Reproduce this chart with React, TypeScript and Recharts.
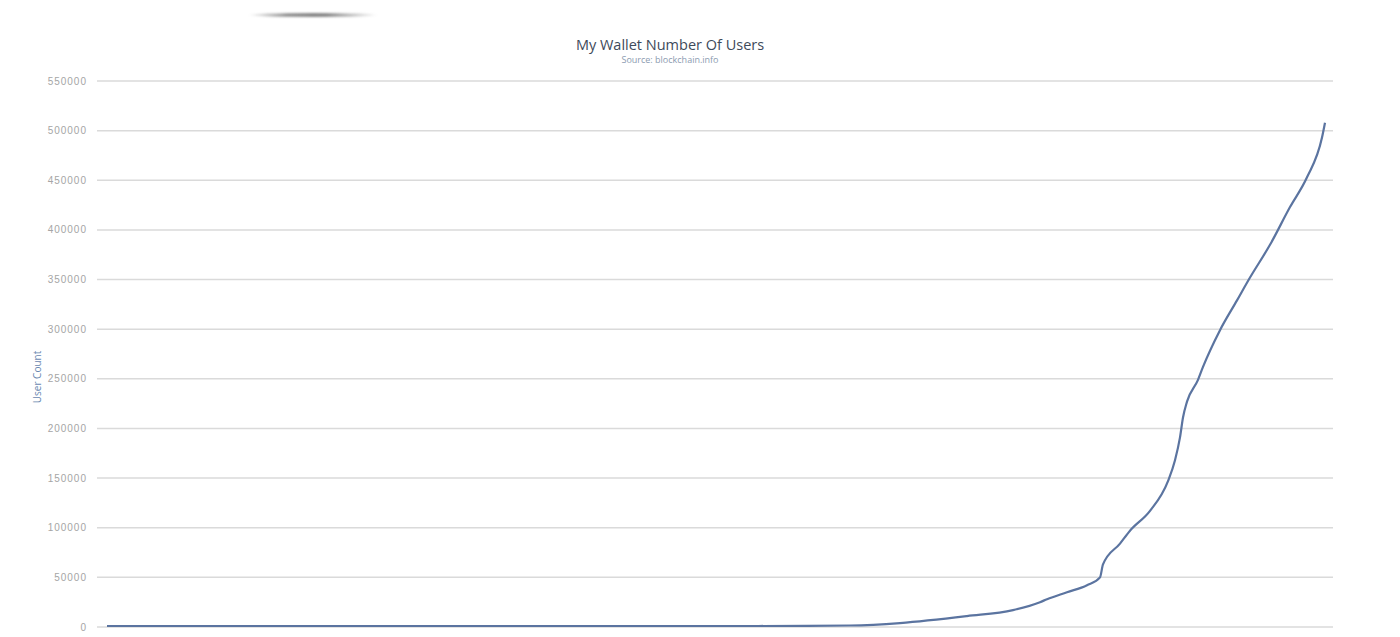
import React from "react";
import { LineChart, Line, XAxis, YAxis, CartesianGrid } from "recharts";

const days: number[] = [0, 150, 300, 450, 600, 700, 743, 793, 860, 906, 933, 940, 960, 980, 993, 996, 1013, 1023, 1043, 1061, 1068, 1073, 1076, 1080, 1091, 1096, 1113, 1130, 1143, 1163, 1183, 1200, 1215, 1218];
const users: number[] = [1000, 1000, 1000, 1000, 1000, 1100, 1500, 4000, 11000, 17000, 25000, 28000, 35000, 42000, 50000, 63000, 84000, 97000, 117000, 147000, 168000, 191000, 211000, 227000, 249000, 262000, 299000, 329000, 352000, 385000, 423000, 453000, 493000, 508000];
const yTicks: number[] = [0, 50000, 100000, 150000, 200000, 250000, 300000, 350000, 400000, 450000, 500000, 550000];

const title = "My Wallet Number Of Users";
const subtitle = "Source: blockchain.info";
const yTitle = "User Count";

const data = days.map((d, i) => ({ day: d, users: users[i] }));

export default function App() {
  return (
    <div style={{ position: "absolute", left: 0, top: 0, width: 1400, height: 637, background: "#fff", fontFamily: "'Open Sans', sans-serif" }}>
      <div
        style={{
          position: "absolute",
          left: 248,
          top: 13,
          width: 130,
          height: 4,
          borderRadius: "50%",
          background: "linear-gradient(90deg, rgba(80,80,80,0) 0%, rgba(70,70,70,0.6) 30%, rgba(70,70,70,0.65) 60%, rgba(80,80,80,0) 100%)",
          filter: "blur(1px)",
        }}
      />
      <div style={{ position: "absolute", left: 470, width: 400, top: 36, textAlign: "center", fontSize: 14.5, color: "#3e4a5a", lineHeight: "18px" }}>{title}</div>
      <div style={{ position: "absolute", left: 470, width: 400, top: 54, textAlign: "center", fontSize: 9, color: "#8b9bb0", lineHeight: "12px" }}>{subtitle}</div>
      <div
        style={{
          position: "absolute",
          left: 37 - 50,
          top: 377 - 7,
          width: 100,
          height: 14,
          lineHeight: "14px",
          textAlign: "center",
          fontSize: 10,
          color: "#6a88b0",
          transform: "rotate(-90deg)",
        }}
      >
        {yTitle}
      </div>
      <LineChart width={1400} height={637} data={data} margin={{ top: 81, right: 67, bottom: 10, left: 0 }}>
        <CartesianGrid vertical={false} stroke="#dadada" strokeWidth={1.5} />
        <XAxis dataKey="day" type="number" domain={[0, 1218]} hide padding={{ left: 10, right: 8 }} />
        <YAxis
          type="number"
          domain={[0, 550000]}
          ticks={yTicks}
          width={97}
          axisLine={false}
          tickLine={false}
          tickMargin={4}
          interval={0}
          tick={{ fontSize: 10, fill: "#a5a5a5", fontFamily: "'Liberation Sans', sans-serif", letterSpacing: 1 }}
        />
        <Line type="monotone" dataKey="users" stroke="#5b74a0" strokeWidth={2.2} dot={false} isAnimationActive={false} />
      </LineChart>
    </div>
  );
}
